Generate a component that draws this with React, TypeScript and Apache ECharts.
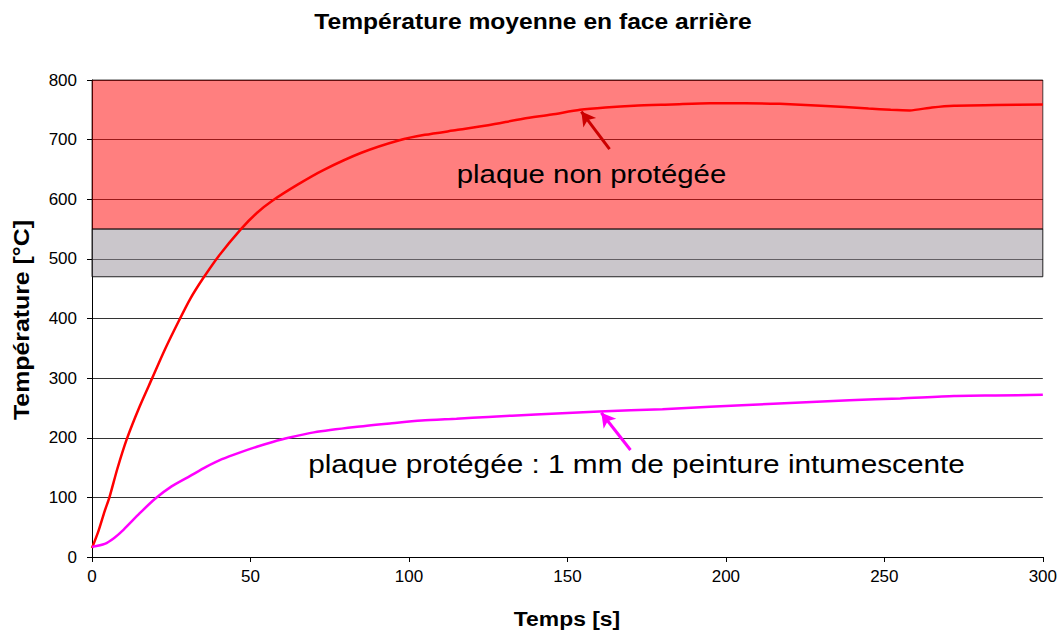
import React, { useEffect, useRef } from "react";
import * as echarts from "echarts";

// ---- data ----
const redT = [0, 2, 4, 5.5, 8, 11, 15, 19, 23, 27.5, 31, 35, 40, 47, 52, 57, 65, 73, 85, 97, 105, 115, 125, 136, 145, 154, 162, 171, 183, 195, 206, 217, 230, 245, 252, 258, 265, 272, 285, 300];
const redV = [15, 43, 77, 100, 148, 198, 252, 300, 348, 397, 433, 467, 505, 550, 577, 598, 625, 649, 678, 699, 708, 716, 724, 735, 742, 750, 754, 757, 759, 761, 761, 760, 757, 752, 750, 749, 754, 757, 758, 759];

const magT = [0, 4, 7, 10, 15, 20, 25, 31, 36, 41, 47, 52, 57, 62, 70, 83, 94, 104, 115, 125, 140, 160, 180, 195, 215, 239, 255, 272, 285, 300];
const magV = [17, 22, 32, 46, 73, 98, 118, 136, 151, 164, 176, 185, 193, 200, 209, 218, 224, 229, 232, 235, 239, 244, 248, 252, 257, 263, 266, 270, 271, 272];

const bandRed = [550, 800];
const bandGray = [470, 550];

// arrows: [tailT, tailV, tipT, tipV]
const arrowRed = [163.3, 684, 154.4, 747];
const arrowMag = [169.9, 179.5, 160.7, 242];

const xTicks = { min: 0, max: 300, interval: 50 };
const yTicks = { min: 0, max: 800, interval: 100 };

const title = "Température moyenne en face arrière";
const xName = "Temps [s]";
const yName = "Température [°C]";
const labelRed = "plaque non protégée";
const labelMag = "plaque protégée : 1 mm de peinture intumescente";

const FONT = "'Liberation Sans', Arial, sans-serif";
const NARROW = "'Liberation Sans Narrow', 'Arial Narrow', 'Liberation Sans', Arial, sans-serif";

export default function App() {
  const ref = useRef<HTMLDivElement>(null);
  useEffect(() => {
    if (!ref.current) return;
    const chart = echarts.init(ref.current, null, { renderer: "svg" });
    const pair = (t: number[], v: number[]) => t.map((x, i) => [x, v[i]]);
    const option: any = {
      animation: false,
      backgroundColor: "#ffffff",
      grid: { left: 92, right: 17, top: 80, bottom: 78, containLabel: false },
      xAxis: {
        type: "value",
        ...xTicks,
        axisLine: { show: true, lineStyle: { color: "#000", width: 1 } },
        axisTick: { show: true, length: 5, lineStyle: { color: "#000" } },
        axisLabel: { color: "#000", fontSize: 17, fontFamily: NARROW, margin: 11 },
        splitLine: { show: false },
      },
      yAxis: {
        type: "value",
        ...yTicks,
        axisLine: { show: true, lineStyle: { color: "#000", width: 1 } },
        axisTick: { show: true, length: 5, lineStyle: { color: "#000" } },
        axisLabel: { color: "#000", fontSize: 17, fontFamily: NARROW, margin: 15 },
        splitLine: { show: true, lineStyle: { color: "#333", width: 1 } },
      },
      series: [
        {
          type: "line",
          name: "non protégée",
          data: pair(redT, redV),
          showSymbol: false,
          symbol: "none",
          smooth: 0.25,
          lineStyle: { color: "#ff0000", width: 2.5 },
          z: 2,
        },
        {
          type: "line",
          name: "protégée",
          data: pair(magT, magV),
          showSymbol: false,
          symbol: "none",
          smooth: 0.25,
          lineStyle: { color: "#ff00ff", width: 2.5 },
          z: 2,
        },
        {
          type: "line",
          name: "bands",
          data: [],
          z: 3,
          markArea: {
            silent: true,
            data: [
              [
                { yAxis: bandRed[0], itemStyle: { color: "rgba(255,0,0,0.5)", borderColor: "rgba(0,0,0,0.7)", borderWidth: 1 } },
                { yAxis: bandRed[1] },
              ],
              [
                { yAxis: bandGray[0], itemStyle: { color: "rgba(150,142,152,0.5)", borderColor: "rgba(0,0,0,0.85)", borderWidth: 1 } },
                { yAxis: bandGray[1] },
              ],
            ],
          },
        },
        {
          type: "line",
          name: "arrows",
          data: [],
          z: 4,
          markLine: {
            silent: true,
            symbol: ["none", "arrow"],
            symbolSize: [12, 14],
            label: { show: false },
            data: [
              [
                { coord: [arrowRed[0], arrowRed[1]], lineStyle: { color: "#cc0000", width: 3, type: "solid" }, itemStyle: { color: "#cc0000" } },
                { coord: [arrowRed[2], arrowRed[3]] },
              ],
              [
                { coord: [arrowMag[0], arrowMag[1]], lineStyle: { color: "#ff00ff", width: 3, type: "solid" }, itemStyle: { color: "#ff00ff" } },
                { coord: [arrowMag[2], arrowMag[3]] },
              ],
            ],
          },
        },
      ],
      graphic: [
        {
          type: "text",
          x: 533,
          y: 21.5,
          scaleX: 1.12,
          z: 100,
          style: { text: title, fill: "#000", font: `bold 22px ${FONT}`, align: "center", verticalAlign: "middle", textAlign: "center", textVerticalAlign: "middle" },
        },
        {
          type: "text",
          x: 567,
          y: 618.5,
          scaleX: 1.09,
          z: 100,
          style: { text: xName, fill: "#000", font: `bold 21px ${FONT}`, align: "center", verticalAlign: "middle", textAlign: "center", textVerticalAlign: "middle" },
        },
        {
          type: "text",
          x: 21.5,
          y: 320,
          rotation: Math.PI / 2,
          scaleX: 1.13,
          z: 100,
          style: { text: yName, fill: "#000", font: `bold 22px ${FONT}`, align: "center", verticalAlign: "middle", textAlign: "center", textVerticalAlign: "middle" },
        },
        {
          type: "text",
          x: 591.5,
          y: 173.7,
          scaleX: 1.13,
          z: 100,
          style: { text: labelRed, fill: "#000", font: `26px ${FONT}`, align: "center", verticalAlign: "middle", textAlign: "center", textVerticalAlign: "middle" },
        },
        {
          type: "text",
          x: 636.5,
          y: 463.7,
          scaleX: 1.145,
          z: 100,
          style: { text: labelMag, fill: "#000", font: `26px ${FONT}`, align: "center", verticalAlign: "middle", textAlign: "center", textVerticalAlign: "middle" },
        },
      ],
    };
    chart.setOption(option);
    return () => chart.dispose();
  }, []);
  return (
    <div
      ref={ref}
      style={{ position: "absolute", left: 0, top: 0, width: 1060, height: 635, background: "#fff" }}
    />
  );
}
